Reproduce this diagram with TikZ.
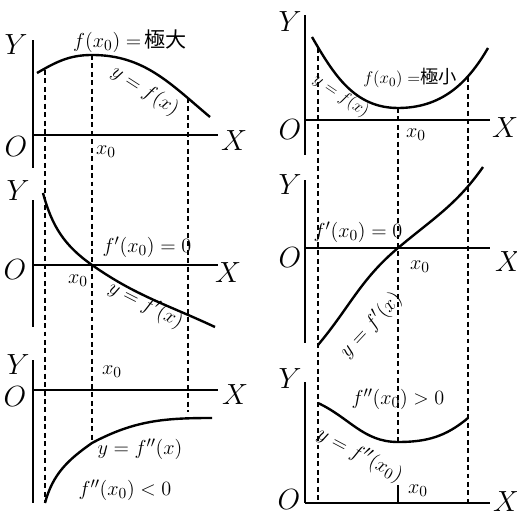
\documentclass[tikz,border=0pt]{standalone}
\usepackage{fontspec}
\newfontfamily\cjk{Noto Sans CJK JP}
\usetikzlibrary{positioning}
\tikzset{
  axisline/.style={line width=2pt},
  graphline/.style={line width=1.7pt},
  guide/.style={dash pattern=on 3.5pt off 2.5pt,line width=1.6pt},
  lbl/.style={inner sep=1pt,font=\fontsize{15}{18}\selectfont},
  smlbl/.style={inner sep=1pt,font=\fontsize{13}{16}\selectfont},
  axlbl/.style={inner sep=1pt,font=\fontsize{20}{24}\selectfont},
}

\begin{document}
\begin{tikzpicture}[x=0.025cm,y=0.025cm]
  \useasboundingbox (0,0) rectangle (517,517);

  % left column: maximum
  \coordinate (tlO) at (33,382); \coordinate (tlXe) at (218,382);
  \coordinate (tlYb) at (33,349); \coordinate (tlYe) at (33,477);
  \draw[axisline] (tlYb) -- (tlYe);
  \draw[axisline] (tlO) -- (tlXe);
  \node[axlbl] (tlYlab) at (16,472) {$Y$};
  \node[axlbl] (tlOlab) at (16,370) {$O$};
  \node[axlbl] (tlXlab) at (234,376) {$X$};
  \coordinate (tlA) at (37,444); \coordinate (tlM) at (92,462); \coordinate (tlB) at (210,400);
  \draw[graphline] (tlA) to[out=30,in=180] (tlM) to[out=0,in=140] (tlB);
  \node[lbl] (tlVal) at (130,476) {$f(x_0)=\,${\cjk 極大}};
  \node[lbl,rotate=-33] (tlCurve) at (145,426) {$y=f(x)$};
  \node[lbl] (tlX0) at (106,365) {$x_0$};

  \coordinate (mlO) at (33,252); \coordinate (mlXe) at (218,252);
  \coordinate (mlYb) at (33,190); \coordinate (mlYe) at (33,317);
  \draw[axisline] (mlYb) -- (mlYe);
  \draw[axisline] (mlO) -- (mlXe);
  \node[axlbl] (mlYlab) at (18,326) {$Y$};
  \node[axlbl] (mlOlab) at (15,247) {$O$};
  \node[axlbl] (mlXlab) at (228,244) {$X$};
  \coordinate (mlA) at (43,324); \coordinate (mlM) at (92,252); \coordinate (mlB) at (215,190);
  \draw[graphline] (mlA) to[out=-75,in=145] (mlM) to[out=-35,in=155] (mlB);
  \node[lbl] (mlVal) at (147,270) {$f'(x_0)=0$};
  \node[lbl] (mlX0) at (78,236) {$x_0$};
  \node[lbl,rotate=-27] (mlCurve) at (146,212) {$y=f'(x)$};

  \coordinate (blO) at (33,127); \coordinate (blXe) at (218,127);
  \coordinate (blYb) at (33,14); \coordinate (blYe) at (33,157);
  \draw[axisline] (blYb) -- (blYe);
  \draw[axisline] (blO) -- (blXe);
  \node[axlbl] (blYlab) at (18,152) {$Y$};
  \node[axlbl] (blOlab) at (15,120) {$O$};
  \node[axlbl] (blXlab) at (235,122) {$X$};
  \coordinate (blA) at (45,14); \coordinate (blM) at (92,74); \coordinate (blB) at (212,99);
  \draw[graphline] (blA) to[out=75,in=-145] (blM) to[out=28,in=180] (blB);
  \node[lbl] (blX0) at (112,145) {$x_0$};
  \node[lbl] (blCurve) at (140,68) {$y=f''(x)$};
  \node[lbl] (blSign) at (125,27) {$f''(x_0)<0$};

  % left column: guides
  \coordinate (glA) at (45,447); \coordinate (glC) at (188,419); \coordinate (glCb) at (188,105);
  \draw[guide] (glA) -- (blA);
  \draw[guide] (tlM) -- (blM);
  \draw[guide] (glC) -- (glCb);

  % right column: minimum
  \coordinate (trO) at (305,397); \coordinate (trXe) at (490,397);
  \coordinate (trYb) at (305,362); \coordinate (trYe) at (305,502);
  \draw[axisline] (trYb) -- (trYe);
  \draw[axisline] (trO) -- (trXe);
  \node[axlbl] (trYlab) at (290,495) {$Y$};
  \node[axlbl] (trOlab) at (290,387) {$O$};
  \node[axlbl] (trXlab) at (505,389) {$X$};
  \coordinate (trA) at (312,480); \coordinate (trM) at (398,409); \coordinate (trB) at (488,469);
  \draw[graphline] (trA) to[out=-60,in=180] (trM) to[out=0,in=-120] (trB);
  \node[smlbl] (trVal) at (410,439) {$f(x_0)=${\cjk 極小}};
  \node[smlbl,rotate=-34] (trCurve) at (341,421) {$y=f(x)$};
  \node[lbl] (trX0) at (416,382) {$x_0$};

  \coordinate (mrO) at (305,269); \coordinate (mrXe) at (490,269);
  \coordinate (mrYb) at (305,174); \coordinate (mrYe) at (305,337);
  \draw[axisline] (mrYb) -- (mrYe);
  \draw[axisline] (mrO) -- (mrXe);
  \node[axlbl] (mrYlab) at (290,332) {$Y$};
  \node[axlbl] (mrOlab) at (290,259) {$O$};
  \node[axlbl] (mrXlab) at (508,255) {$X$};
  \coordinate (mrA) at (318,172); \coordinate (mrM) at (398,269); \coordinate (mrB) at (483,350);
  \draw[graphline] (mrA) to[out=50,in=-140] (mrM) to[out=40,in=-125] (mrB);
  \node[lbl] (mrVal) at (358,285) {$f'(x_0)=0$};
  \node[lbl] (mrX0) at (420,250) {$x_0$};
  \node[lbl,rotate=47] (mrCurve) at (371,192) {$y=f'(x)$};

  \coordinate (brO) at (305,14); \coordinate (brXe) at (490,14);
  \coordinate (brYb) at (305,14); \coordinate (brYe) at (305,135);
  \draw[axisline] (brYb) -- (brYe);
  \draw[axisline] (brO) -- (brXe);
  \node[axlbl] (brYlab) at (290,138) {$Y$};
  \node[axlbl] (brOlab) at (289,17) {$O$};
  \node[axlbl] (brXlab) at (506,15) {$X$};
  \coordinate (brA) at (318,114); \coordinate (brM) at (398,75); \coordinate (brB) at (468,99);
  \draw[graphline] (brA) to[out=-25,in=180] (brM) to[out=0,in=-140] (brB);
  \node[lbl] (brVal) at (398,118) {$f''(x_0)>0$};
  \node[lbl,rotate=-28] (brCurve) at (360,62) {$y=f''(x_0)$};
  \node[lbl] (brX0) at (418,26) {$x_0$};
  \coordinate (brTick) at (398,32); \coordinate (brFoot) at (398,14);
  \draw[line width=1.4pt] (brFoot) -- (brTick);

  % right column: guides
  \coordinate (grA) at (318,469); \coordinate (grAb) at (318,14);
  \coordinate (grC) at (468,440); \coordinate (grCb) at (468,14);
  \draw[guide] (grA) -- (grAb);
  \draw[guide] (trM) -- (brM);
  \draw[guide] (grC) -- (grCb);
\end{tikzpicture}
\end{document}
